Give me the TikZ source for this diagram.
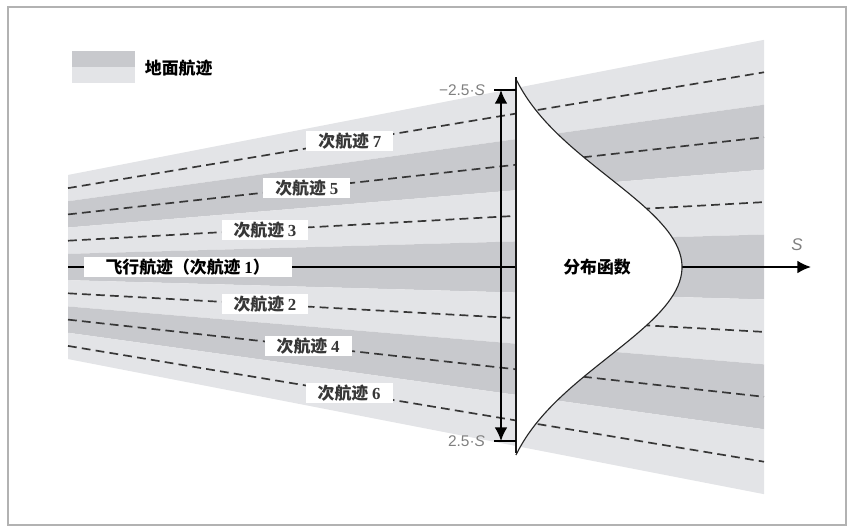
\documentclass[tikz,border=0pt]{standalone}
\usepackage{fontspec}
\setmainfont{Liberation Serif}
\newfontfamily\cjk{Noto Sans CJK SC}
\newfontfamily\axisfont{Liberation Sans}
\usetikzlibrary{arrows.meta}
\definecolor{lightband}{RGB}{227,228,231}
\definecolor{darkband}{RGB}{200,201,205}
\definecolor{trackgray}{RGB}{55,55,55}

\begin{document}
\begin{tikzpicture}[x=0.025cm,y=-0.025cm,>={Latex[length=0.34cm,width=0.32cm]},
  track node/.style={fill=white,font=\cjk\bfseries\fontsize{12}{14}\selectfont,inner xsep=0.3cm,inner ysep=0pt,minimum height=0.5cm},
  track line/.style={dash pattern=on 0.22cm off 0.13cm,line width=1.2pt,trackgray},
  tick label/.style={font=\axisfont\fontsize{11}{13}\selectfont,text=gray,anchor=east}]
    \useasboundingbox (0,0) rectangle (848,527);
    \draw[gray!60,line width=1pt] (8,7) rectangle (846,525);

    % legend
    \fill[darkband] (72,51) rectangle (135,67);
    \fill[lightband] (72,67) rectangle (135,83);
    \node[anchor=west,font=\cjk\bfseries\fontsize{12}{14}\selectfont] (legend) at (140,68) {地面航迹};

    % ground tracks
    \foreach \k/\c in {-3/lightband,-2/darkband,-1/lightband,0/darkband,1/lightband,2/darkband,3/lightband}
      \fill[\c] (68,{267+(\k-0.5)*26.3}) -- (764,{267+(\k-0.5)*64.9}) -- (764,{267+(\k+0.5)*64.9}) -- (68,{267+(\k+0.5)*26.3}) -- cycle;

    \draw[track line] (68,188.1) -- node[track node,pos=0.405] (t7) {次航迹 {\rmfamily 7}} (764,72.3);
    \draw[track line] (68,214.4) -- node[track node,pos=0.343] (t5) {次航迹 {\rmfamily 5}} (764,137.2);
    \draw[track line] (68,240.7) -- node[track node,pos=0.283] (t3) {次航迹 {\rmfamily 3}} (764,202.1);
    \draw[track line] (68,293.3) -- node[track node,pos=0.283] (t2) {次航迹 {\rmfamily 2}} (764,331.9);
    \draw[track line] (68,319.6) -- node[track node,pos=0.345] (t4) {次航迹 {\rmfamily 4}} (764,396.8);
    \draw[track line] (68,345.9) -- node[track node,pos=0.404] (t6) {次航迹 {\rmfamily 6}} (764,461.7);

    % flight track
    \coordinate (start) at (68,267);
    \coordinate (end) at (811,267);
    \draw[->,line width=1.4pt] (start) -- node[track node,pos=0.161,inner xsep=0.55cm] (t1) {飞行航迹（次航迹 {\rmfamily 1}）} (end);
    \node[font=\axisfont\itshape\fontsize{12}{14}\selectfont,text=gray] (s) at (797,245) {S};

    % distribution
    \fill[white] plot[variable=\t,domain=-188:188,samples=90] ({516+166*(exp(-0.5*(\t/90)^2)-0.113)/0.887},{267+\t});
    \draw[gray!30!black,line width=0.8pt] plot[variable=\t,domain=-188:188,samples=90] ({516+166*(exp(-0.5*(\t/90)^2)-0.113)/0.887},{267+\t});
    \coordinate (ftop) at (516,77);
    \coordinate (fbot) at (516,453);
    \draw[line width=1.2pt,gray!20!black] (ftop) -- (fbot);
    \node[font=\cjk\bfseries\fontsize{12}{14}\selectfont] (dist) at (597,267) {分布函数};

    % +-2.5 S
    \coordinate (hi) at (501,90);
    \coordinate (lo) at (501,441);
    \draw[line width=1.2pt] (494,90) -- (516,90) (494,441) -- (516,441);
    \draw[<->,line width=1.4pt] (hi) -- (lo);
    \node[tick label] (minus) at (490,90) {−2.5·\textit{S}};
    \node[tick label] (plus) at (490,441) {2.5·\textit{S}};
  \end{tikzpicture}
\end{document}
